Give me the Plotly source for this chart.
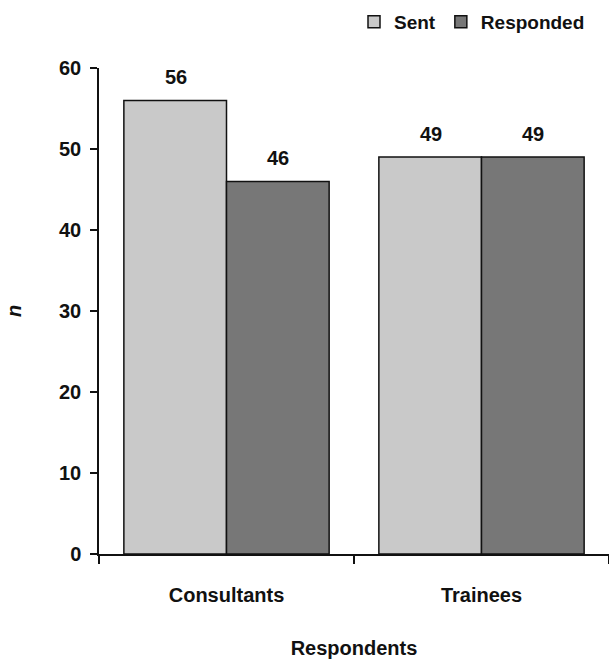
import plotly.graph_objects as go

categories = ["Consultants", "Trainees"]
sent = [56, 49]
responded = [46, 49]
y_ticks = [0, 10, 20, 30, 40, 50, 60]

font = "Liberation Sans, Arial, sans-serif"
ink = "#111111"
fs = 20

fig = go.Figure()
fig.add_trace(go.Bar(name="<b>Sent</b>", x=categories, y=sent,
                     marker=dict(color="#c9c9c9", line=dict(color="#111111", width=1.5))))
fig.add_trace(go.Bar(name="<b>Responded</b>", x=categories, y=responded,
                     marker=dict(color="#777777", line=dict(color="#111111", width=1.5))))

# value labels above each bar
for i, (s, r) in enumerate(zip(sent, responded)):
    for off, v in ((-0.2, s), (0.2, r)):
        fig.add_annotation(x=i + off, y=v, xref="x", yref="y", text=f"<b>{v}</b>",
                           showarrow=False, yanchor="bottom", yshift=10,
                           font=dict(family=font, size=fs, color=ink))

fig.update_layout(
    width=609, height=662,
    margin=dict(l=99, r=0, t=68, b=108),
    paper_bgcolor="white", plot_bgcolor="white",
    barmode="group", bargap=0.195, bargroupgap=0,
    font=dict(family=font, size=fs, color=ink),
    legend=dict(orientation="h", x=0.5, xanchor="left", y=1.095, yanchor="middle",
                font=dict(family=font, size=19, color=ink), itemwidth=30,
                traceorder="normal"),
    showlegend=True,
)

fig.update_xaxes(
    range=[-0.5, 1.5], showline=True, linecolor=ink, linewidth=1.5,
    ticks="outside", tickson="boundaries", ticklen=8, tickwidth=1.5, tickcolor=ink,
    tickfont=dict(family=font, size=fs, color=ink),
    tickvals=categories, ticktext=[f"<b>{c}</b>" for c in categories],
    ticklabelstandoff=22,
    title=dict(text="<b>Respondents</b>", font=dict(family=font, size=fs, color=ink), standoff=36),
    showgrid=False, zeroline=False, automargin=False,
)
fig.update_yaxes(
    range=[0, 60], tickvals=y_ticks, ticktext=[f"<b>{t}</b>" for t in y_ticks],
    showline=True, linecolor=ink, linewidth=1.5,
    ticks="outside", ticklen=7, tickwidth=1.5, tickcolor=ink,
    tickfont=dict(family=font, size=fs, color=ink), ticklabelstandoff=5,
    title=dict(text="<b><i>n</i></b>", font=dict(family=font, size=fs, color=ink), standoff=32),
    showgrid=False, zeroline=False, automargin=False,
)

fig.write_html("out.html")
